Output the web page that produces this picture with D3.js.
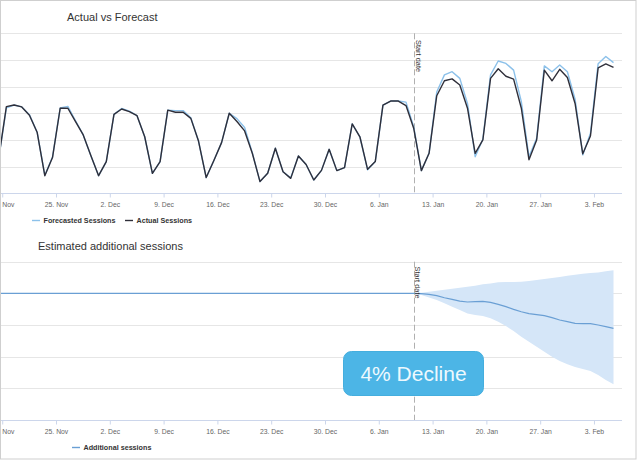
<!DOCTYPE html>
<html>
<head>
<meta charset="utf-8">
<script src="https://cdn.jsdelivr.net/npm/d3@7/dist/d3.min.js"></script>
<style>
  html, body { margin: 0; padding: 0; background: #fff; }
  svg { display: block; font-family: "Liberation Sans", Arial, sans-serif; }
</style>
</head>
<body>
<svg id="chart" width="640" height="461"></svg>
<script>
// ---------------- DATA ----------------
// daily points, timestamped at local midnight (UTC+11)
const firstDay = "2018-11-18";
const lastDay = "2019-02-06";
const utcOffsetHours = 11;
const startDate = "2019-01-11";

const tickDates = ["2018-11-18","2018-11-25","2018-12-02","2018-12-09","2018-12-16","2018-12-23",
  "2018-12-30","2019-01-06","2019-01-13","2019-01-20","2019-01-27","2019-02-03"];

const seriesNames = ["Forecasted Sessions", "Actual Sessions"];
const additionalName = "Additional sessions";

const actual = [
  1.32,3.25,3.31,3.24,2.93,2.29,0.66,
  1.34,3.19,3.19,2.69,2.19,1.41,0.66,
  1.19,2.96,3.16,3.06,2.91,2.12,0.75,
  1.19,3.12,3.04,3.04,2.81,1.96,0.59,
  1.23,1.90,3.00,2.69,2.34,1.50,0.44,
  0.75,1.69,0.81,0.56,1.40,1.08,0.50,
  0.86,1.65,0.85,0.96,2.60,2.12,0.90,
  1.19,3.31,3.46,3.46,3.29,2.44,0.85,
  1.50,3.66,4.22,4.29,4.06,3.19,1.50,
  2.00,4.31,4.67,4.39,4.28,3.20,1.26,
  2.00,4.62,4.22,4.65,4.34,3.37,1.48,
  2.15,4.70,4.85,4.72];

const forecast = [
  1.30,3.20,3.31,3.24,2.95,2.29,0.68,
  1.36,3.20,3.26,2.72,2.19,1.41,0.66,
  1.19,2.96,3.18,3.08,2.91,2.12,0.75,
  1.19,3.12,3.10,3.10,2.83,1.96,0.59,
  1.23,1.90,3.00,2.80,2.47,1.52,0.44,
  0.75,1.69,0.81,0.58,1.40,1.08,0.50,
  0.86,1.65,0.85,0.96,2.60,2.12,0.88,
  1.19,3.31,3.46,3.46,3.42,2.50,0.85,
  1.50,3.80,4.44,4.56,4.31,3.37,1.37,
  2.03,4.44,4.96,4.87,4.62,3.45,1.37,
  2.06,4.78,4.56,4.81,4.56,3.53,1.44,
  2.25,4.86,5.13,4.90];

// estimated additional sessions, % (whole period)
const additional = [
  0,0,0,0,0,0,0, 0,0,0,0,0,0,0, 0,0,0,0,0,0,0, 0,0,0,0,0,0,0,
  0,0,0,0,0,0,0, 0,0,0,0,0,0,0, 0,0,0,0,0,0,0, 0,0,0,0,0,
  0,-0.04,-0.13,-0.29,-0.55,-0.76,-0.97,-1.09,-1.05,-1.01,-1.14,-1.39,-1.68,-2.02,
  -2.32,-2.57,-2.69,-2.82,-3.07,-3.37,-3.58,-3.79,-3.83,-3.83,-4.00,-4.21,-4.42];

// confidence band, from the start date on
const bandHigh = [0,0.08,0.21,0.34,0.46,0.59,0.72,0.84,0.97,1.14,1.26,1.39,1.43,1.43,
  1.47,1.56,1.68,1.81,1.94,2.06,2.23,2.36,2.48,2.57,2.65,2.78,2.91];
const bandLow = [0,-0.21,-0.51,-0.84,-1.26,-1.68,-2.11,-2.53,-2.74,-2.86,-3.16,-3.58,-4.13,-4.76,
  -5.47,-6.11,-6.74,-7.37,-8.00,-8.55,-8.97,-9.31,-9.56,-9.81,-10.32,-10.95,-11.49];

const topTicks = [0,1,2,3,4,5,6];
const bottomTicks = [-16,-12,-8,-4,0,4];
const calloutText = "4% Decline";

// ---------------- BUILD ----------------
const toLocal = s => new Date(s + "T00:00:00+" + String(utcOffsetHours).padStart(2,"0") + ":00");
const dayStrings = d3.utcDay.range(new Date(firstDay + "T00:00:00Z"), d3.utcDay.offset(new Date(lastDay + "T00:00:00Z"), 1))
  .map(d3.utcFormat("%Y-%m-%d"));
const dates = dayStrings.map(toLocal);
const start = toLocal(startDate);
const startIdx = dayStrings.indexOf(startDate);
const bandData = bandHigh.map((h, i) => ({ date: dates[startIdx + i], hi: h, lo: bandLow[i] }));

const svg = d3.select("#chart");
const W = 640, H = 461;
const plotL = 0, plotR = 622;

svg.append("rect").attr("width", W).attr("height", H).attr("fill", "#fff");

const x = d3.scaleUtc().domain(d3.extent(dates)).range([-1.3, 613.5]);
const tickFmt = d3.utcFormat("%-d. %b");
const ticks = tickDates.map(s => new Date(s + "T00:00:00Z"));

svg.append("defs").append("clipPath").attr("id", "clip")
  .append("rect").attr("x", plotL).attr("y", 0).attr("width", plotR - plotL).attr("height", H);

function panel(y, top, bottom, yTicks, title, titleX) {
  const g = svg.append("g");
  // grid
  g.selectAll("line.grid").data(yTicks.slice(1)).join("line")
    .attr("x1", plotL).attr("x2", plotR)
    .attr("y1", d => Math.round(y(d)) + 0.5).attr("y2", d => Math.round(y(d)) + 0.5)
    .attr("stroke", "#e6e6e6").attr("stroke-width", 1);
  // x axis
  const ax = g.append("g").attr("transform", `translate(0,${Math.round(bottom) + 0.5})`)
    .call(d3.axisBottom(x).tickValues(ticks).tickFormat(tickFmt).tickSize(4).tickPadding(5));
  ax.select(".domain").attr("stroke", "#ccd6eb").attr("d", `M${plotL},0H${plotR}`);
  ax.selectAll(".tick line").attr("stroke", "#ccd6eb");
  ax.selectAll(".tick text").attr("fill", "#666").attr("font-size", 6.8)
    .attr("font-family", "Liberation Sans, Arial, sans-serif");
  // title
  g.append("text").attr("x", titleX).attr("y", top - 12).text(title)
    .attr("fill", "#333").attr("font-size", 11);
  // start line
  g.append("line").attr("x1", Math.round(x(start)) + 0.5).attr("x2", Math.round(x(start)) + 0.5)
    .attr("y1", top).attr("y2", bottom)
    .attr("stroke", "#b0b0b0").attr("stroke-width", 1).attr("stroke-dasharray", "6,3");
  return g;
}

// ---------- top panel ----------
const yTop = d3.scaleLinear().domain([0, 6]).range([193.3, 33.3]);
const gTop = panel(yTop, 33.3, 193.3, topTicks, "Actual vs Forecast", 67);
const lineTop = vals => d3.line().x((d, i) => x(dates[i])).y(d => yTop(d))(vals);
const topLines = svg.append("g").attr("clip-path", "url(#clip)");
topLines.append("path").attr("d", lineTop(forecast)).attr("fill", "none")
  .attr("stroke", "#8cc1ea").attr("stroke-width", 1.4).attr("stroke-linejoin", "round");
topLines.append("path").attr("d", lineTop(actual)).attr("fill", "none")
  .attr("stroke", "#2f2f3a").attr("stroke-width", 1.4).attr("stroke-linejoin", "round");
svg.append("text").attr("transform", `translate(${Math.round(x(start)) + 1.8},40) rotate(90)`)
  .text("Start date").attr("font-size", 7.4).attr("fill", "#333");

// legend top
const legTop = [{ name: seriesNames[0], color: "#8cc1ea", x: 32 }, { name: seriesNames[1], color: "#2f2f3a", x: 125 }];
legTop.forEach(l => {
  svg.append("line").attr("x1", l.x).attr("x2", l.x + 8).attr("y1", 220.5).attr("y2", 220.5)
    .attr("stroke", l.color).attr("stroke-width", 1.4);
  svg.append("text").attr("x", l.x + 11.5).attr("y", 222.8).text(l.name)
    .attr("font-size", 7.2).attr("font-weight", "bold").attr("fill", "#333");
});

// ---------- bottom panel ----------
const yBot = d3.scaleLinear().domain([-16, 4]).range([420, 261.7]);
const gBot = panel(yBot, 261.7, 420, bottomTicks, "Estimated additional sessions", 38);
const botG = svg.append("g").attr("clip-path", "url(#clip)");
botG.append("path").datum(bandData)
  .attr("d", d3.area().x(d => x(d.date)).y0(d => yBot(d.lo)).y1(d => yBot(d.hi)))
  .attr("fill", "#d5e6f8");
botG.append("path")
  .attr("d", d3.line().x((d, i) => x(dates[i])).y(d => yBot(d))(additional))
  .attr("fill", "none").attr("stroke", "#6a9fd4").attr("stroke-width", 1.2);
svg.append("text").attr("transform", `translate(${Math.round(x(start)) + 1.3},266.5) rotate(90)`)
  .text("Start date").attr("font-size", 7.4).attr("fill", "#333");

// legend bottom
svg.append("line").attr("x1", 72).attr("x2", 80).attr("y1", 447.5).attr("y2", 447.5)
  .attr("stroke", "#6a9fd4").attr("stroke-width", 1.4);
svg.append("text").attr("x", 83.5).attr("y", 449.8).text(additionalName)
  .attr("font-size", 7.2).attr("font-weight", "bold").attr("fill", "#333");

// callout
svg.append("rect").attr("x", 343.5).attr("y", 351.5).attr("width", 140).attr("height", 44)
  .attr("rx", 8).attr("fill", "#4cb5e6").attr("stroke", "#44aede").attr("stroke-width", 1);
svg.append("text").attr("x", 413.5).attr("y", 381).attr("text-anchor", "middle")
  .text(calloutText).attr("font-size", 21).attr("fill", "#eef9fe");

// frame
svg.append("rect").attr("x", 0.5).attr("y", 0.5).attr("width", 635.5).attr("height", 458.5)
  .attr("fill", "none").attr("stroke", "#cfcfcf").attr("stroke-width", 1);
</script>
</body>
</html>
